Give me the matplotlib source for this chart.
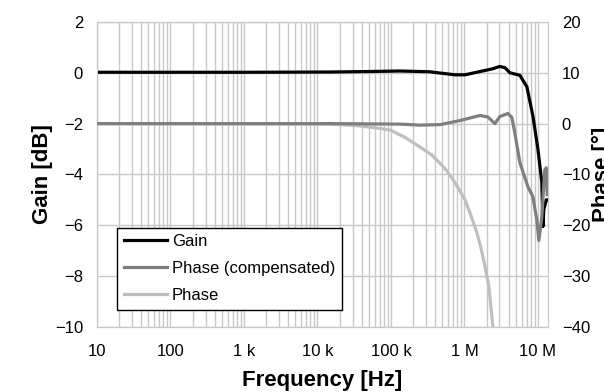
import numpy as np
import matplotlib
matplotlib.use('Agg')
from matplotlib import pyplot as plt
from matplotlib.ticker import FixedLocator, NullFormatter, LogLocator

plt.rcParams['font.family'] = ['Liberation Sans', 'DejaVu Sans']

# Gain [dB] vs frequency [Hz]
gain_f = [10, 1.2e3, 1.48e4, 5.2e4, 1.32e5, 3.37e5, 7.4e5, 1.02e6, 1.63e6, 2.37e6, 3.04e6,
          3.56e6, 4.16e6, 5.69e6, 7.08e6, 8.55e6, 10e6, 11.3e6, 11.7e6, 12.0e6, 13.0e6, 13.4e6]
gain_db = [0.02, 0.02, 0.03, 0.05, 0.07, 0.04, -0.08, -0.08, 0.05, 0.15, 0.25,
           0.2, 0.0, -0.1, -0.55, -1.7, -3.0, -4.3, -6.05, -5.4, -5.0, -5.0]

# Phase (compensated) [deg]
comp_f = [10, 1.48e4, 1.32e5, 2.48e5, 4.65e5, 8.69e5, 1.63e6, 2.09e6, 2.6e6, 3.04e6, 3.91e6,
          4.43e6, 4.86e6, 5.69e6, 7.31e6, 8.55e6, 9.68e6, 10.3e6, 11.3e6, 12.4e6, 13.0e6, 13.4e6]
comp_deg = [0.0, 0.0, -0.1, -0.3, -0.2, 0.6, 1.6, 1.3, 0.0, 1.4, 2.0,
            1.2, -1.9, -7.7, -12.4, -14.4, -19.0, -23.0, -18.4, -9.1, -8.7, -14.0]

# Phase (raw) [deg]
phase_f = [10, 1.48e4, 3.44e4, 6.05e4, 9.69e4, 1.55e5, 2.48e5, 3.61e5, 4.65e5, 5.78e5, 6.98e5,
           8.42e5, 1.02e6, 1.22e6, 1.48e6, 1.68e6, 1.9e6, 2.15e6, 2.44e6, 2.6e6]
phase_deg = [0.0, -0.1, -0.4, -0.8, -1.25, -2.7, -4.6, -6.2, -7.8, -9.3, -11.0,
             -12.9, -15.0, -18.0, -21.5, -24.5, -28.0, -32.0, -40.0, -43.0]

xticks = [10, 100, 1e3, 1e4, 1e5, 1e6, 1e7]
xlabels = ['10', '100', '1 k', '10 k', '100 k', '1 M', '10 M']

fig = plt.figure(figsize=(6.04, 3.92), dpi=100)
ax = fig.add_axes([0.1606, 0.166, 0.7466, 0.778])
ax2 = ax.twinx()

ax.set_xscale('log')
ax.set_xlim(10, 13.7e6)
ax.set_ylim(-10, 2)
ax2.set_ylim(-40, 20)

lw = 2.3
ax.plot(gain_f, gain_db, color='black', lw=lw, label='Gain', zorder=5)
l2, = ax2.plot(comp_f, comp_deg, color='#7f7f7f', lw=lw, label='Phase (compensated)', zorder=4)
l3, = ax2.plot(phase_f, phase_deg, color='#bfbfbf', lw=lw, label='Phase', zorder=3)

ax.xaxis.set_major_locator(FixedLocator(xticks))
ax.set_xticklabels(xlabels)
ax.xaxis.set_minor_locator(LogLocator(base=10, subs=np.arange(2, 10)))
ax.xaxis.set_minor_formatter(NullFormatter())
ax.set_yticks(np.arange(-10, 3, 2))
ax2.set_yticks(np.arange(-40, 21, 10))

gc = '#c8c8c8'
ax.grid(True, which='major', color=gc, lw=1)
ax.grid(True, which='minor', axis='x', color=gc, lw=1)
ax.set_axisbelow(True)
for a in (ax, ax2):
    for s in a.spines.values():
        s.set_color(gc)
    a.tick_params(which='both', length=0, labelsize=12)
ax.tick_params(axis='y', pad=10)
ax.tick_params(axis='x', pad=12)
ax2.tick_params(axis='y', pad=10)

ax.set_xlabel('Frequency [Hz]', fontsize=16, fontweight='bold', labelpad=8)
ax.set_ylabel('Gain [dB]', fontsize=16, fontweight='bold', labelpad=1)
ax2.set_ylabel('Phase [°]', fontsize=16, fontweight='bold', labelpad=1)

h1, lb1 = ax.get_legend_handles_labels()
leg = ax2.legend(h1 + [l2, l3], lb1 + ['Phase (compensated)', 'Phase'],
                 loc='lower left', bbox_to_anchor=(0.044, 0.056), borderaxespad=0,
                 fontsize=12, frameon=True, fancybox=False, framealpha=1,
                 edgecolor='black', handlelength=2.6, handletextpad=0.3,
                 borderpad=0.4, labelspacing=0.72)
leg.get_frame().set_linewidth(1)

fig.savefig('out.png', dpi=100)
